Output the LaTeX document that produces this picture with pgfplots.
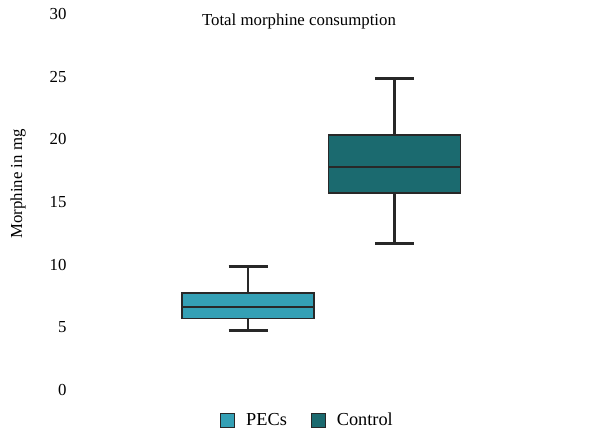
\documentclass[border=0pt]{standalone}
\usepackage{pgfplots}
\pgfplotsset{compat=1.18}
\usepackage{fontspec}
\setmainfont{Liberation Serif}
\definecolor{pecs}{RGB}{52,160,181}
\definecolor{ctrl}{RGB}{27,106,111}
\definecolor{edge}{RGB}{40,40,40}
\begin{document}
\begin{tikzpicture}
\begin{axis}[
  at={(0pt,0pt)}, anchor=south west,
  scale only axis, width=448pt, height=376pt,
  xmin=-0.181, xmax=2.877, ymin=0, ymax=30,
  axis line style={draw=none},
  major tick length=0pt,
  xtick=\empty,
  ytick={0,5,10,15,20,25,30},
  /pgf/number format/assume math mode=true,
  yticklabel style={font=\fontsize{16.8}{20}\selectfont, anchor=east, xshift=-5pt},
  ylabel={Morphine in mg},
  ylabel style={font=\fontsize{16.8}{20}\selectfont, at={(axis description cs:-0.127,0.548)}, anchor=center},
  title={Total morphine consumption},
  title style={font=\fontsize{16.8}{20}\selectfont, at={(axis description cs:0.5,0.965)}, anchor=center},
  legend style={font=\fontsize{18.3}{20}\selectfont, draw=none, at={(axis description cs:0.519,-0.08)}, anchor=center, legend columns=2,
    /tikz/every even column/.append style={column sep=22pt},
    /tikz/every odd column/.append style={column sep=9pt}},
  legend image code/.code={\draw[#1, line width=1pt] (0pt,-7pt) rectangle (14pt,7pt);},
]
\addlegendimage{fill=pecs, draw=edge}
\addlegendentry{PECs}
\addlegendimage{fill=ctrl, draw=edge}
\addlegendentry{Control}
% PECs: lower whisker 4.73, Q1 5.72, median 6.65, Q3 7.72, upper whisker 9.84
\addplot[forget plot, draw=edge, line width=2.8pt] coordinates {(1,4.73) (1,9.84)};
\addplot[forget plot, draw=edge, line width=2.8pt] coordinates {(0.867,4.73) (1.133,4.73)};
\addplot[forget plot, draw=edge, line width=2.8pt] coordinates {(0.867,9.84) (1.133,9.84)};
\addplot[forget plot, fill=pecs, draw=edge, line width=1.5pt] coordinates {(0.55,5.72) (1.45,5.72) (1.45,7.72) (0.55,7.72)} --cycle;
\addplot[forget plot, draw=edge, line width=2pt] coordinates {(0.55,6.65) (1.45,6.65)};
% Control: lower whisker 11.71, Q1 15.70, median 17.77, Q3 20.33, upper whisker 24.88
\addplot[forget plot, draw=edge, line width=2.8pt] coordinates {(2,11.71) (2,24.88)};
\addplot[forget plot, draw=edge, line width=2.8pt] coordinates {(1.867,11.71) (2.133,11.71)};
\addplot[forget plot, draw=edge, line width=2.8pt] coordinates {(1.867,24.88) (2.133,24.88)};
\addplot[forget plot, fill=ctrl, draw=edge, line width=1.5pt] coordinates {(1.55,15.70) (2.45,15.70) (2.45,20.33) (1.55,20.33)} --cycle;
\addplot[forget plot, draw=edge, line width=2pt] coordinates {(1.55,17.77) (2.45,17.77)};
\end{axis}
\path[use as bounding box] (-75pt,-41pt) rectangle (541pt,390pt);
\end{tikzpicture}
\end{document}
